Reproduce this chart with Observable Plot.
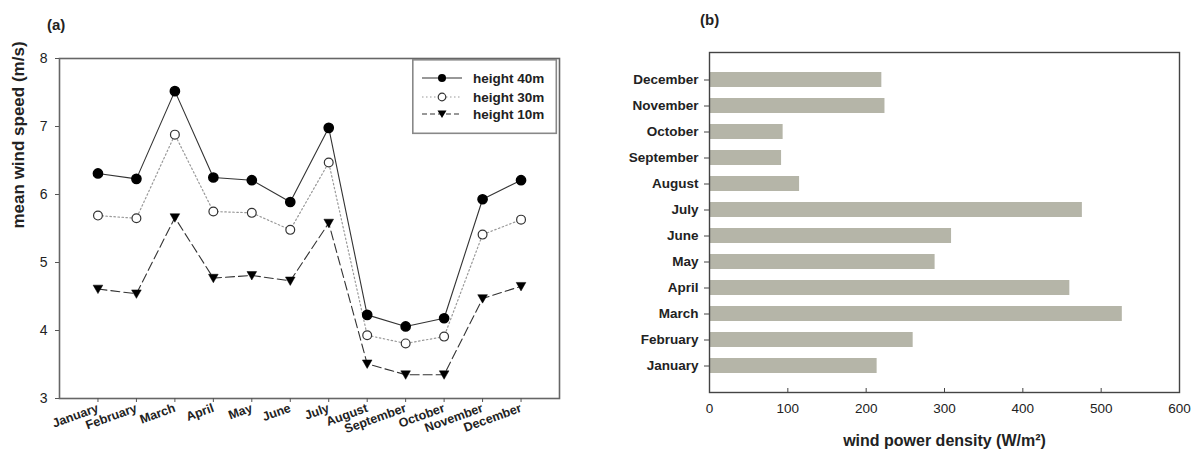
<!DOCTYPE html>
<html>
<head>
<meta charset="utf-8">
<script src="https://cdn.jsdelivr.net/npm/d3@7"></script>
<script src="https://cdn.jsdelivr.net/npm/@observablehq/plot@0.6"></script>
<style>
  body { margin: 0; background: #fff; font-family: "Liberation Sans", Arial, sans-serif; }
  #wrap { position: relative; width: 1196px; height: 449px; overflow: hidden; background: #fff; }
  #left, #right { position: absolute; top: 0; }
  #left { left: 0; }
  #right { left: 590px; }
  .ttl { position: absolute; font-size: 15px; font-weight: bold; color: #222; }
  #legend { position: absolute; left: 412px; top: 59px; }
</style>
</head>
<body>
<div id="wrap">
  <div id="left"></div>
  <div id="right"></div>
  <div class="ttl" style="left:47px; top:16px;">(a)</div>
  <div class="ttl" style="left:700px; top:11px;">(b)</div>
  <div id="legend"></div>
</div>
<script>
// ---- data ----
const months = ["January","February","March","April","May","June","July","August","September","October","November","December"];
const speed40 = [6.31, 6.23, 7.52, 6.25, 6.21, 5.89, 6.98, 4.23, 4.06, 4.18, 5.93, 6.21];
const speed30 = [5.69, 5.65, 6.88, 5.75, 5.73, 5.48, 6.47, 3.93, 3.81, 3.91, 5.41, 5.63];
const speed10 = [4.61, 4.54, 5.66, 4.77, 4.81, 4.73, 5.58, 3.51, 3.35, 3.35, 4.47, 4.65];
const seriesNames = ["height 40m", "height 30m", "height 10m"];
const powerDensity = [214, 260, 527, 460, 288, 309, 476, 115, 92, 94, 224, 220];
const speedTicks = [3, 4, 5, 6, 7, 8];
const powerTicks = [0, 100, 200, 300, 400, 500, 600];

const font = "Liberation Sans, Arial, sans-serif";

// down-pointing triangle symbol
const triangleDown = {
  draw(context, size) {
    const r = Math.sqrt(size / Math.PI) * 1.05;
    context.moveTo(-r, -r * 0.8);
    context.lineTo(r, -r * 0.8);
    context.lineTo(0, r * 0.95);
    context.closePath();
  }
};

const rows40 = months.map((m, i) => ({i: i + 1, month: m, v: speed40[i]}));
const rows30 = months.map((m, i) => ({i: i + 1, month: m, v: speed30[i]}));
const rows10 = months.map((m, i) => ({i: i + 1, month: m, v: speed10[i]}));

const left = Plot.plot({
  width: 590, height: 449,
  marginLeft: 59, marginRight: 31, marginTop: 58, marginBottom: 51,
  style: {fontFamily: font, color: "#222", background: "transparent"},
  x: {domain: [0, 13]},
  y: {domain: [3, 8]},
  marks: [
    Plot.frame({stroke: "#666", strokeWidth: 1.6}),
    Plot.axisY({ticks: speedTicks, tickFormat: d => String(d), tickSize: 4, tickPadding: 8, fontSize: 14, label: null, stroke: "#555"}),
    Plot.axisX({ticks: months.map((_, i) => i + 1), tickFormat: d => months[d - 1], tickRotate: -20,
      tickSize: 4, tickPadding: 5, fontSize: 12.5, fontWeight: "bold", label: null, stroke: "#555"}),
    Plot.text(["mean wind speed (m/s)"], {frameAnchor: "left", rotate: -90, dx: -41,
      fontSize: 17, fontWeight: "bold", fill: "#222"}),
    Plot.line(rows40, {x: "i", y: "v", stroke: "#333", strokeWidth: 1.1}),
    Plot.line(rows30, {x: "i", y: "v", stroke: "#999", strokeWidth: 1.2, strokeDasharray: "1.5,2.5"}),
    Plot.line(rows10, {x: "i", y: "v", stroke: "#333", strokeWidth: 1.1, strokeDasharray: "9,4"}),
    Plot.dot(rows40, {x: "i", y: "v", r: 4.6, fill: "#000", stroke: "#000"}),
    Plot.dot(rows30, {x: "i", y: "v", r: 4.4, fill: "#fff", stroke: "#333", strokeWidth: 1.2}),
    Plot.dot(rows10, {x: "i", y: "v", r: 4.6, symbol: triangleDown, fill: "#000", stroke: "#000", strokeWidth: 0.5})
  ]
});
document.getElementById("left").appendChild(left);

const right = Plot.plot({
  width: 606, height: 449,
  marginLeft: 119, marginRight: 17, marginTop: 52, marginBottom: 57,
  style: {fontFamily: font, color: "#222", background: "transparent"},
  x: {domain: [0, 600]},
  y: {domain: months.slice().reverse(), paddingInner: 0.43, paddingOuter: 0.715},
  marks: [
    Plot.barX(months, {y: d => d, x: (d, i) => powerDensity[i], fill: "#b5b5a8"}),
    Plot.frame({stroke: "#444", strokeWidth: 1.4}),
    Plot.axisY({tickSize: 5, tickPadding: 6, fontSize: 13.5, fontWeight: "bold", label: null, stroke: "#444"}),
    Plot.axisX({ticks: powerTicks, tickSize: 0, tickPadding: 11, fontSize: 13.5, label: null}),
    Plot.tickX(powerTicks, {x: d => d, insetTop: 336, stroke: "#444"}),
    Plot.text(["wind power density (W/m²)"], {frameAnchor: "bottom", dy: 53,
      fontSize: 16, fontWeight: "bold", fill: "#222"})
  ]
});
document.getElementById("right").appendChild(right);

// ---- legend ----
const lg = d3.select("#legend").append("svg").attr("width", 146).attr("height", 76)
  .style("font-family", font);
lg.append("rect").attr("x", 0.8).attr("y", 0.8).attr("width", 143.5).attr("height", 73.5)
  .attr("fill", "#fff").attr("stroke", "#888").attr("stroke-width", 1.6);
const styles = [
  {dash: null, stroke: "#333", sym: "circleFill"},
  {dash: "1.5,2.5", stroke: "#999", sym: "circleOpen"},
  {dash: "5,3", stroke: "#333", sym: "tri"}
];
const rowsY = [19, 38, 55];
seriesNames.forEach((name, k) => {
  const g = lg.append("g").attr("transform", `translate(0,${rowsY[k]})`);
  const st = styles[k];
  const ln = g.append("line").attr("x1", 10).attr("x2", 50).attr("y1", 0).attr("y2", 0)
    .attr("stroke", st.stroke).attr("stroke-width", 1.1);
  if (st.dash) ln.attr("stroke-dasharray", st.dash);
  if (st.sym === "circleFill") g.append("circle").attr("cx", 30).attr("r", 4).attr("fill", "#000");
  if (st.sym === "circleOpen") g.append("circle").attr("cx", 30).attr("r", 3.8).attr("fill", "#fff").attr("stroke", "#333").attr("stroke-width", 1.2);
  if (st.sym === "tri") g.append("path").attr("d", "M25.5,-3.5L34.5,-3.5L30,4Z").attr("fill", "#000");
  g.append("text").attr("x", 61).attr("y", 0).attr("dy", "0.35em").attr("font-size", 13.5)
    .attr("font-weight", "bold").attr("fill", "#222").text(name);
});
</script>
</body>
</html>
